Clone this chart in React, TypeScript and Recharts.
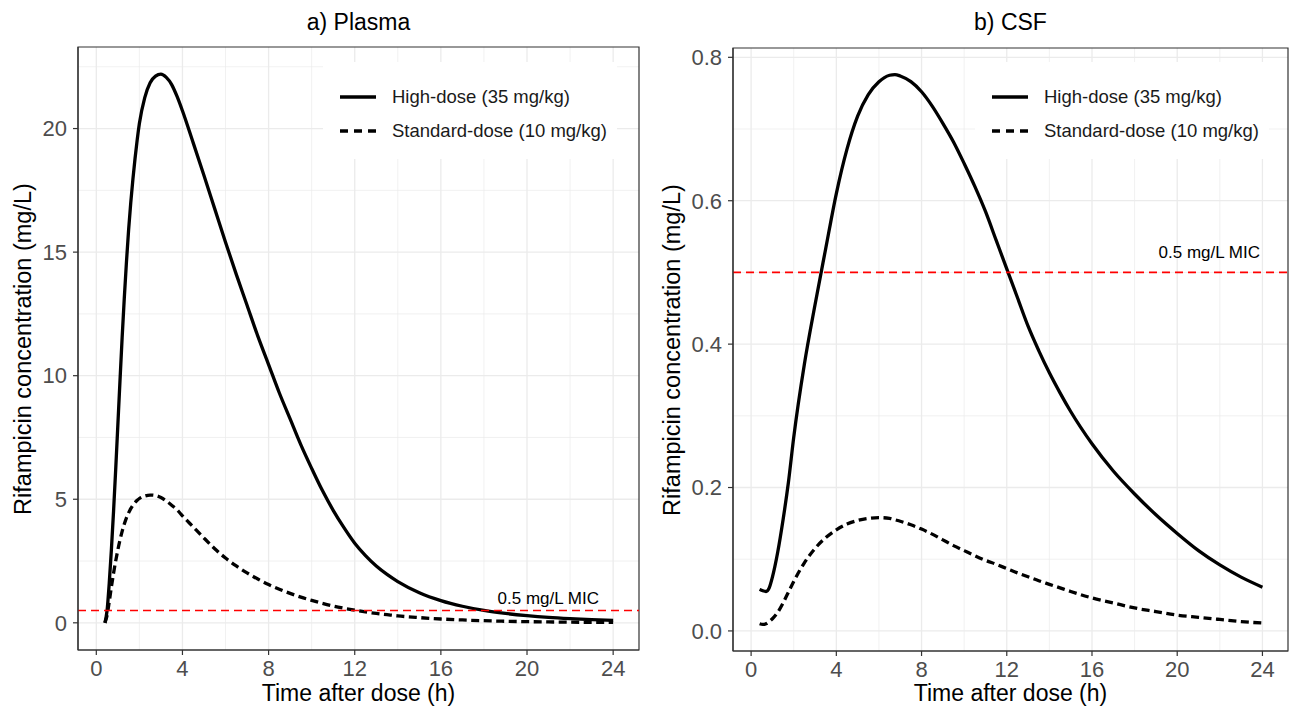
import React from "react";
import {
  LineChart,
  Line,
  XAxis,
  YAxis,
  CartesianGrid,
  ReferenceLine,
  ReferenceArea,
  Legend,
} from "recharts";

const FONT = '"Liberation Sans", Arial, sans-serif';

// a) plasma
const plasmaTime = [
  0.4, 0.5, 0.6, 0.7, 0.8, 0.9, 1, 1.1, 1.2, 1.3, 1.4, 1.5, 1.6, 1.7, 1.8, 1.9,
  2, 2.25, 2.5, 2.75, 3, 3.25, 3.5, 3.75, 4, 4.5, 5, 5.5, 6, 6.5, 7, 7.5, 8,
  8.5, 9, 9.5, 10, 10.5, 11, 11.5, 12, 12.5, 13, 13.5, 14, 15, 16, 17, 18, 19,
  20, 21, 22, 23, 24,
];
const plasmaHigh = [
  0, 0.5, 1.6, 2.95, 4.5, 6.2, 8.0, 9.8, 11.55, 13.15, 14.6, 15.9, 17.0, 17.95,
  18.8, 19.55, 20.2, 21.25, 21.85, 22.12, 22.2, 22.07, 21.78, 21.3, 20.72,
  19.42, 18.1, 16.75, 15.4, 14.1, 12.85, 11.6, 10.45, 9.3, 8.25, 7.2, 6.25,
  5.35, 4.55, 3.85, 3.22, 2.72, 2.3, 1.96, 1.67, 1.22, 0.9, 0.67, 0.5, 0.38,
  0.29, 0.22, 0.17, 0.13, 0.1,
];
const plasmaStandard = [
  0, 0.3, 0.85, 1.45, 2.0, 2.5, 2.95, 3.35, 3.7, 4.0, 4.25, 4.45, 4.62, 4.76,
  4.87, 4.96, 5.03, 5.13, 5.17, 5.15, 5.07, 4.93, 4.76, 4.57, 4.33, 3.88, 3.43,
  3.0, 2.62, 2.3, 2.02, 1.77, 1.55, 1.36, 1.19, 1.04, 0.91, 0.79, 0.68, 0.59,
  0.51, 0.44, 0.38, 0.33, 0.28, 0.21, 0.155, 0.115, 0.085, 0.063, 0.047, 0.035,
  0.026, 0.019, 0.014,
];

// b) CSF
const csfTime = [
  0.4, 0.55, 0.7, 0.85, 1, 1.25, 1.5, 1.75, 2, 2.5, 3, 3.5, 4, 4.5, 5, 5.5, 6,
  6.5, 6.75, 7, 7.5, 8, 8.5, 9, 9.5, 10, 10.5, 11, 11.5, 12, 12.5, 13, 13.5,
  14, 14.5, 15, 16, 17, 18, 19, 20, 21, 22, 23, 24,
];
const csfHigh = [
  0.058, 0.056, 0.055, 0.06, 0.075, 0.11, 0.155, 0.207, 0.27, 0.372, 0.455,
  0.533, 0.61, 0.672, 0.718, 0.748, 0.766, 0.775, 0.776, 0.774, 0.766, 0.752,
  0.732, 0.708, 0.682, 0.652, 0.62, 0.585, 0.545, 0.505, 0.465, 0.425, 0.391,
  0.36, 0.332, 0.306, 0.261, 0.223, 0.191, 0.162, 0.136, 0.112, 0.092, 0.075,
  0.061,
];
const csfStandard = [
  0.01, 0.009, 0.01, 0.013, 0.017, 0.026, 0.039, 0.054, 0.069, 0.095, 0.115,
  0.13, 0.141, 0.149, 0.154, 0.157, 0.158, 0.157, 0.155, 0.153, 0.148, 0.142,
  0.135, 0.127, 0.119, 0.112, 0.105, 0.0985, 0.093, 0.087, 0.081, 0.0755,
  0.07, 0.065, 0.06, 0.055, 0.046, 0.039, 0.032, 0.027, 0.022, 0.019, 0.016,
  0.013, 0.011,
];

const timeDomain = [-0.85, 25.2];
const timeTicks = [0, 4, 8, 12, 16, 20, 24];
const timeMinor = [2, 6, 10, 14, 18, 22];
const plasmaDomain = [-1.1, 23.3];
const plasmaTicks = [0, 5, 10, 15, 20];
const plasmaMinor = [2.5, 7.5, 12.5, 17.5, 22.5];
const csfDomain = [-0.028, 0.813];
const csfTicks = [0, 0.2, 0.4, 0.6, 0.8];
const csfMinor = [0.1, 0.3, 0.5, 0.7];

const seriesNames = ["High-dose (35 mg/kg)", "Standard-dose (10 mg/kg)"];
const micValue = 0.5;
const micLabel = "0.5 mg/L MIC";

const plasmaData = plasmaTime.map((t, i) => ({
  t,
  high: plasmaHigh[i],
  standard: plasmaStandard[i],
}));
const csfData = csfTime.map((t, i) => ({
  t,
  high: csfHigh[i],
  standard: csfStandard[i],
}));

const LegendBox = () => (
  <div
    style={{
      position: "relative",
      width: 294,
      height: 97,
      background: "#fff",
      fontFamily: FONT,
    }}
  >
    {seriesNames.map((name, i) => (
      <div
        key={name}
        style={{
          position: "absolute",
          left: 17,
          top: 23 + i * 34,
          height: 24,
          display: "flex",
          alignItems: "center",
          whiteSpace: "nowrap",
        }}
      >
        <svg width={36} height={6}>
          <line
            x1={0}
            x2={36}
            y1={3}
            y2={3}
            stroke="#000"
            strokeWidth={3.4}
            strokeDasharray={i ? "8 6" : undefined}
          />
        </svg>
        <span style={{ marginLeft: 16, fontSize: 18.5, color: "#1a1a1a" }}>
          {name}
        </span>
      </div>
    ))}
  </div>
);

function Panel(props: any) {
  const {
    data,
    left,
    margin,
    yDomain,
    yTicks,
    yMinor,
    yFormat,
    title,
    legendLeft,
    micDx,
    micDy,
    yTitleX,
  } = props;
  const w = 648;
  const h = 713;
  const plotLeft = left + margin.left + 60;
  const plotRight = left + w - margin.right;
  const plotTop = margin.top;
  const plotBottom = h - margin.bottom - 40;
  const cx = (plotLeft + plotRight) / 2;
  const tickStyle = { fontSize: 22, fill: "#4d4d4d", fontFamily: FONT };

  return (
    <>
      <div
        style={{
          position: "absolute",
          left: cx - 150,
          width: 300,
          top: 9,
          textAlign: "center",
          fontSize: 23,
          fontFamily: FONT,
          color: "#000",
        }}
      >
        {title}
      </div>
      <div style={{ position: "absolute", left, top: 0 }}>
        <LineChart width={w} height={h} data={data} margin={margin}>
          <CartesianGrid
            stroke="#ebebeb"
            strokeWidth={0.7}
            verticalValues={timeMinor}
            horizontalValues={yMinor}
          />
          <CartesianGrid
            stroke="#ebebeb"
            strokeWidth={1.3}
            verticalValues={timeTicks}
            horizontalValues={yTicks}
          />
          <XAxis
            type="number"
            dataKey="t"
            domain={timeDomain}
            ticks={timeTicks}
            allowDataOverflow
            height={40}
            tick={tickStyle}
            tickSize={5}
            tickMargin={5}
            axisLine={{ stroke: "#333", strokeWidth: 1.2 }}
            tickLine={{ stroke: "#333", strokeWidth: 1.2 }}
          />
          <YAxis
            type="number"
            domain={yDomain}
            ticks={yTicks}
            allowDataOverflow
            width={60}
            tick={tickStyle}
            tickFormatter={yFormat}
            tickSize={5}
            tickMargin={6}
            axisLine={{ stroke: "#333", strokeWidth: 1.2 }}
            tickLine={{ stroke: "#333", strokeWidth: 1.2 }}
          />
          <Legend
            layout="horizontal"
            verticalAlign="middle"
            align="center"
            content={<LegendBox />}
            wrapperStyle={{ left: legendLeft, top: 62, width: 294, height: 97 }}
          />
          <Line
            type="monotone"
            dataKey="high"
            name={seriesNames[0]}
            stroke="#000"
            strokeWidth={3.3}
            dot={false}
            isAnimationActive={false}
          />
          <Line
            type="monotone"
            dataKey="standard"
            name={seriesNames[1]}
            stroke="#000"
            strokeWidth={3.3}
            strokeDasharray="8 4.5"
            dot={false}
            isAnimationActive={false}
          />
          <ReferenceLine
            y={micValue}
            stroke="#ff0000"
            strokeWidth={1.6}
            strokeDasharray="8 5"
            label={(p: any) => (
              <text
                x={p.viewBox.x + p.viewBox.width - micDx}
                y={p.viewBox.y - micDy}
                textAnchor="end"
                fontSize={17}
                fontFamily={FONT}
                fill="#000"
              >
                {micLabel}
              </text>
            )}
          />
          {/* panel border */}
          <ReferenceArea
            x1={timeDomain[0]}
            x2={timeDomain[1]}
            y1={yDomain[0]}
            y2={yDomain[1]}
            fill="none"
            fillOpacity={0}
            stroke="#333"
            strokeWidth={1.2}
            ifOverflow="visible"
          />
        </LineChart>
      </div>
      <div
        style={{
          position: "absolute",
          left: cx - 200,
          width: 400,
          top: 680,
          textAlign: "center",
          fontSize: 23,
          fontFamily: FONT,
          color: "#000",
        }}
      >
        Time after dose (h)
      </div>
      <div
        style={{
          position: "absolute",
          left: yTitleX - 250,
          top: (plotTop + plotBottom) / 2 - 14,
          width: 500,
          height: 28,
          lineHeight: "28px",
          textAlign: "center",
          transform: "rotate(-90deg)",
          fontSize: 23.5,
          fontFamily: FONT,
          color: "#000",
        }}
      >
        Rifampicin concentration (mg/L)
      </div>
    </>
  );
}

export default function App() {
  return (
    <div
      style={{
        position: "absolute",
        left: 0,
        top: 0,
        width: 1296,
        height: 713,
        background: "#fff",
        overflow: "hidden",
      }}
    >
      <Panel
        data={plasmaData}
        left={0}
        margin={{ top: 47, right: 9, left: 18, bottom: 23 }}
        yDomain={plasmaDomain}
        yTicks={plasmaTicks}
        yMinor={plasmaMinor}
        yFormat={(v: number) => String(v)}
        title="a) Plasma"
        legendLeft={323}
        micDx={40}
        micDy={6}
        yTitleX={23}
      />
      <Panel
        data={csfData}
        left={648}
        margin={{ top: 48, right: 8, left: 25, bottom: 22 }}
        yDomain={csfDomain}
        yTicks={csfTicks}
        yMinor={csfMinor}
        yFormat={(v: number) => v.toFixed(1)}
        title="b) CSF"
        legendLeft={327}
        micDx={28}
        micDy={14}
        yTitleX={672}
      />
    </div>
  );
}
